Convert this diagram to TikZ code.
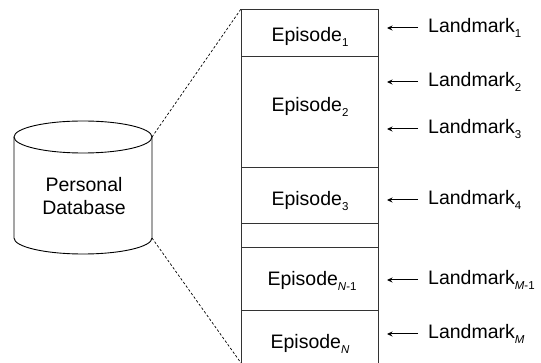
\documentclass[tikz,border=0pt]{standalone}
\usepackage{fontspec}
\setmainfont{Liberation Sans}
\usetikzlibrary{arrows.meta}
\newcommand{\sbs}[1]{\raisebox{-4.5pt}{\fontsize{11.5}{12}\selectfont #1}}
\begin{document}
\begin{tikzpicture}[x=1pt,y=-1pt,
  lbl/.style={inner sep=0pt,font=\fontsize{19.5}{23}\selectfont},
  lm/.style={lbl,anchor=west},
  arr/.style={-{Stealth[length=5.5pt,width=5pt]},line width=1pt},
  stk/.style={line width=0.8pt,draw=black!80},
  dsh/.style={dashed,dash pattern=on 2.5pt off 2pt,line width=0.7pt}]
\useasboundingbox (0,0) rectangle (541,363);
% stack
\coordinate (s0) at (241,9);
\coordinate (s0r) at (378,9);
\coordinate (sb) at (241,363);
\coordinate (sbr) at (378,363);
\draw[stk] (sb) -- (s0) -- (s0r) -- (sbr);
\foreach \y in {56,167,223,247,310} \draw[stk] (241,\y) -- (378,\y);
% episodes
\node[lbl] (e1) at (310,37) {Episode\sbs{1}};
\node[lbl] (e2) at (310,107) {Episode\sbs{2}};
\node[lbl] (e3) at (310,201) {Episode\sbs{3}};
\node[lbl] (e4) at (312,281) {Episode\sbs{\textit{N}-1}};
\node[lbl] (e5) at (310,344) {Episode\sbs{\textit{N}}};
% landmarks
\foreach \i/\y/\s in {1/28/1,2/82/2,3/129/3,4/200/4,5/280/\textit{M}-1,6/334/\textit{M}}{
  \coordinate (t\i) at (387,\y);
  \node[lm] (l\i) at (428,\y) {Landmark\sbs{\s}};
  \draw[arr] (418,\y) -- (t\i);
}
% cylinder
\coordinate (ctl) at (14,137);
\coordinate (ctr) at (152,137);
\coordinate (cbl) at (14,238);
\coordinate (cbr) at (152,238);
\draw[line width=0.9pt,fill=white] (ctl) -- (cbl) arc[start angle=180,end angle=360,x radius=69,y radius=-16] -- (ctr);
\draw[line width=0.9pt] (83,137) ellipse[x radius=69,y radius=16];
\node[lbl,align=center] (db) at (84,196) {Personal\\Database};
% dashed
\draw[dsh] (ctr) -- (s0);
\draw[dsh] (cbr) -- (sb);
\end{tikzpicture}
\end{document}
